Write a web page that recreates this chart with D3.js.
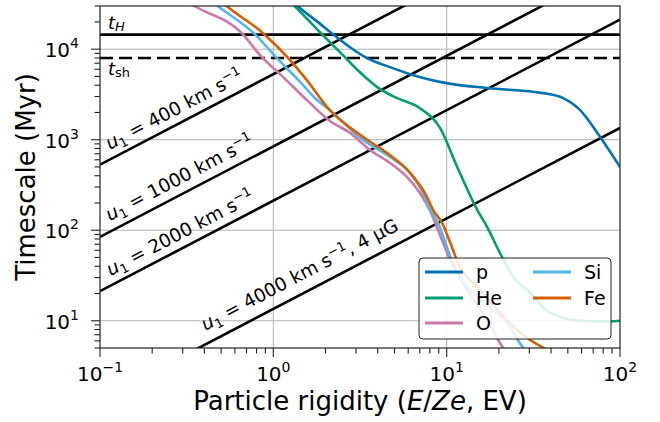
<!DOCTYPE html>
<html>
<head>
<meta charset="utf-8">
<script src="https://cdn.jsdelivr.net/npm/d3@7"></script>
<style>
  body { margin: 0; background: #fff; }
  text { font-family: "DejaVu Sans", sans-serif; fill: #000; }
</style>
</head>
<body>
<svg id="chart" width="660" height="422"></svg>
<script>
// species curves: rigidity (EV) vs timescale (Myr)
const species = ["p", "He", "O", "Si", "Fe"];
const colors = ["#0072B2", "#009E73", "#CC79A7", "#56B4E9", "#D55E00"];

const pR = [1.26, 1.39, 1.81, 2.21, 2.77, 3.47, 4.71, 6.15, 10.0, 17.1, 36.0, 47.0, 58.9, 76.8, 100];
const pT = [36000, 29800, 19900, 14600, 10500, 7960, 6340, 5300, 4220, 3720, 3270, 2880, 2120, 1070, 500];

const heR = [1.26, 1.33, 1.86, 2.52, 3.16, 4.13, 5.18, 7.01, 9.16, 11.5, 15.0, 17.1, 20.3, 24.2, 30.3, 37.9, 58.9, 87.7, 100];
const heT = [33000, 29800, 15400, 8590, 5570, 3620, 2880, 2230, 1350, 500, 168, 109, 56, 30.6, 20.4, 12.9, 10.0, 9.8, 10.0];

const oR = [0.316, 0.353, 0.659, 0.838, 1.14, 1.56, 2.12, 2.77, 3.61, 4.71, 5.90, 7.01, 8.02, 9.40, 10.5, 13.1, 17.1, 21.1, 23.5];
const oT = [34000, 29800, 15000, 8590, 4910, 2740, 1610, 1190, 769, 553, 388, 258, 164, 78, 47, 22, 10.3, 5.05, 4.0];

const siR = [0.44, 0.480, 0.784, 1.05, 1.43, 1.79, 2.12, 3.30, 4.71, 6.15, 7.31, 8.02, 8.91, 10.0, 11.5, 15.6, 22.3, 27.6, 30.5];
const siT = [34000, 29800, 14600, 7960, 4330, 2740, 2120, 993, 644, 430, 258, 168, 121, 65.6, 33.9, 17.1, 9.5, 5.05, 4.2];

const feR = [0.50, 0.541, 0.873, 1.25, 1.56, 2.12, 3.30, 4.53, 6.15, 7.71, 8.34, 9.40, 10.5, 11.6, 15.6, 20.3, 26.5, 36.0, 40.0];
const feT = [34000, 29800, 15000, 7570, 4550, 2120, 1070, 713, 430, 233, 168, 121, 72.6, 43.7, 22.0, 12.3, 7.40, 5.05, 4.6];

// shock acceleration lines: timescale at R = 0.1 and R = 100
const speeds = ["400", "1000", "2000", "4000"];
const lineT01 = [530, 84.5, 21.2, 1.35];
const lineT100 = [530000, 84500, 21200, 1350];
const lineExtra = ["", "", "", ",  4 \u03bcG"];

// horizontal reference times (Myr)
const tHubble = 14500;
const tShock = 8000;

const xMajor = [0.1, 1, 10, 100];
const xMajorExp = ["\u22121", "0", "1", "2"];
const yMajor = [10, 100, 1000, 10000];
const yMajorExp = ["1", "2", "3", "4"];

const svg = d3.select("#chart");
const m = { left: 100, right: 620, top: 6, bottom: 348 };

const x = d3.scaleLog().domain([0.1, 100]).range([m.left, m.right]);
const y = d3.scaleLog().domain([5, 30000]).range([m.bottom, m.top]);

svg.append("defs").append("clipPath").attr("id", "clip")
  .append("rect").attr("x", m.left).attr("y", m.top)
  .attr("width", m.right - m.left).attr("height", m.bottom - m.top);

// grid
const grid = svg.append("g").attr("stroke", "#b0b0b0").attr("stroke-width", 1);
xMajor.slice(1, 3).forEach(v => {
  grid.append("line").attr("x1", x(v)).attr("x2", x(v)).attr("y1", m.top).attr("y2", m.bottom);
});
yMajor.forEach(v => {
  grid.append("line").attr("y1", y(v)).attr("y2", y(v)).attr("x1", m.left).attr("x2", m.right);
});

const plot = svg.append("g").attr("clip-path", "url(#clip)");

// horizontal lines
plot.append("line").attr("x1", m.left).attr("x2", m.right)
  .attr("y1", y(tHubble)).attr("y2", y(tHubble))
  .attr("stroke", "#000").attr("stroke-width", 2.6);
plot.append("line").attr("x1", m.left).attr("x2", m.right)
  .attr("y1", y(tShock)).attr("y2", y(tShock))
  .attr("stroke", "#000").attr("stroke-width", 2.6).attr("stroke-dasharray", "13,6");

// diagonal lines
const line = d3.line().x(d => x(d[0])).y(d => y(d[1]));
speeds.forEach((s, i) => {
  plot.append("path").datum([[0.1, lineT01[i]], [100, lineT100[i]]])
    .attr("d", line).attr("fill", "none").attr("stroke", "#000").attr("stroke-width", 2.6);
});

// species curves
const series = [[pR, pT], [heR, heT], [oR, oT], [siR, siT], [feR, feT]];
const curve = d3.line().x(d => x(d[0])).y(d => y(d[1])).curve(d3.curveMonotoneX);
series.forEach((s, i) => {
  plot.append("path").datum(d3.zip(s[0], s[1]))
    .attr("d", curve).attr("fill", "none")
    .attr("stroke", colors[i]).attr("stroke-width", 2.6)
    .attr("stroke-linejoin", "round");
});

// line labels
const angle = Math.atan((y(10) - y(100)) / (x(10) - x(1))) * 180 / Math.PI;
const labelR = [0.114, 0.114, 0.115, 0.405];
const labelOff = [9.5, 10.5, 9.5, 13.5];
speeds.forEach((s, i) => {
  const r = labelR[i];
  const t = lineT01[i] * r / 0.1;
  const tx = svg.append("text")
    .attr("transform", `translate(${x(r)},${y(t) - labelOff[i]}) rotate(${-angle})`)
    .attr("font-size", 18.5);
  tx.append("tspan").attr("font-style", "italic").text("u");
  tx.append("tspan").attr("font-size", 13).attr("dy", 4).text("1");
  tx.append("tspan").attr("dy", -4).text(" =  " + s + " km s");
  tx.append("tspan").attr("font-size", 13).attr("dy", -7.5).text("\u22121");
  if (lineExtra[i]) tx.append("tspan").attr("dy", 7.5).text(lineExtra[i]);
});

// t_H and t_sh labels
const th = svg.append("text").attr("x", 108).attr("y", 29).attr("font-size", 18);
th.append("tspan").attr("font-style", "italic").text("t");
th.append("tspan").attr("font-style", "italic").attr("font-size", 13).attr("dy", 2).text("H");
const ts = svg.append("text").attr("x", 108).attr("y", 75).attr("font-size", 18);
ts.append("tspan").attr("font-style", "italic").text("t");
ts.append("tspan").attr("font-size", 13).attr("dy", 2).text("sh");

// axes frame
svg.append("rect").attr("x", m.left).attr("y", m.top)
  .attr("width", m.right - m.left).attr("height", m.bottom - m.top)
  .attr("fill", "none").attr("stroke", "#222").attr("stroke-width", 1.2);

// ticks
const ticks = svg.append("g").attr("stroke", "#222").attr("stroke-width", 1.1);
for (let e = -1; e < 2; e++) {
  for (let k = 1; k < 10; k++) {
    const v = k * Math.pow(10, e);
    const len = k === 1 ? 9 : 5.5;
    ticks.append("line").attr("x1", x(v)).attr("x2", x(v)).attr("y1", m.bottom).attr("y2", m.bottom + len);
  }
}
ticks.append("line").attr("x1", x(100)).attr("x2", x(100)).attr("y1", m.bottom).attr("y2", m.bottom + 9);
for (let e = 0; e < 5; e++) {
  for (let k = 1; k < 10; k++) {
    const v = k * Math.pow(10, e);
    if (v < 5 || v > 30000) continue;
    const len = k === 1 ? 9 : 5.5;
    ticks.append("line").attr("y1", y(v)).attr("y2", y(v)).attr("x1", m.left).attr("x2", m.left - len);
  }
}

// tick labels
xMajor.forEach((v, i) => {
  const t = svg.append("text").attr("x", x(v)).attr("y", 381)
    .attr("text-anchor", "middle").attr("font-size", 20);
  t.append("tspan").text("10");
  t.append("tspan").attr("font-size", 14).attr("dy", -9).text(xMajorExp[i]);
});
yMajor.forEach((v, i) => {
  const t = svg.append("text").attr("x", 79).attr("y", y(v) + 8)
    .attr("text-anchor", "end").attr("font-size", 20);
  t.append("tspan").text("10");
  t.append("tspan").attr("font-size", 14).attr("dy", -9).text(yMajorExp[i]);
});

// axis labels
const xl = svg.append("text").attr("x", (m.left + m.right) / 2).attr("y", 410)
  .attr("text-anchor", "middle").attr("font-size", 26);
xl.append("tspan").text("Particle rigidity (");
xl.append("tspan").attr("font-style", "italic").text("E");
xl.append("tspan").text("/");
xl.append("tspan").attr("font-style", "italic").text("Ze");
xl.append("tspan").text(", EV)");

svg.append("text").attr("transform", `translate(35,${(m.top + m.bottom) / 2}) rotate(-90)`)
  .attr("text-anchor", "middle").attr("font-size", 26).text("Timescale (Myr)");

// legend
const lg = svg.append("g");
lg.append("rect").attr("x", 419).attr("y", 258).attr("width", 192).attr("height", 81)
  .attr("rx", 4).attr("fill", "#fff").attr("fill-opacity", 0.85)
  .attr("stroke", "#222").attr("stroke-width", 1);
const legX = [425, 425, 425, 533, 533];
const legY = [272, 298, 323, 272, 298];
species.forEach((s, i) => {
  lg.append("line").attr("x1", legX[i]).attr("x2", legX[i] + 38)
    .attr("y1", legY[i]).attr("y2", legY[i])
    .attr("stroke", colors[i]).attr("stroke-width", 3);
  lg.append("text").attr("x", legX[i] + 51).attr("y", legY[i] + 7)
    .attr("font-size", 19).text(s);
});
</script>
</body>
</html>
